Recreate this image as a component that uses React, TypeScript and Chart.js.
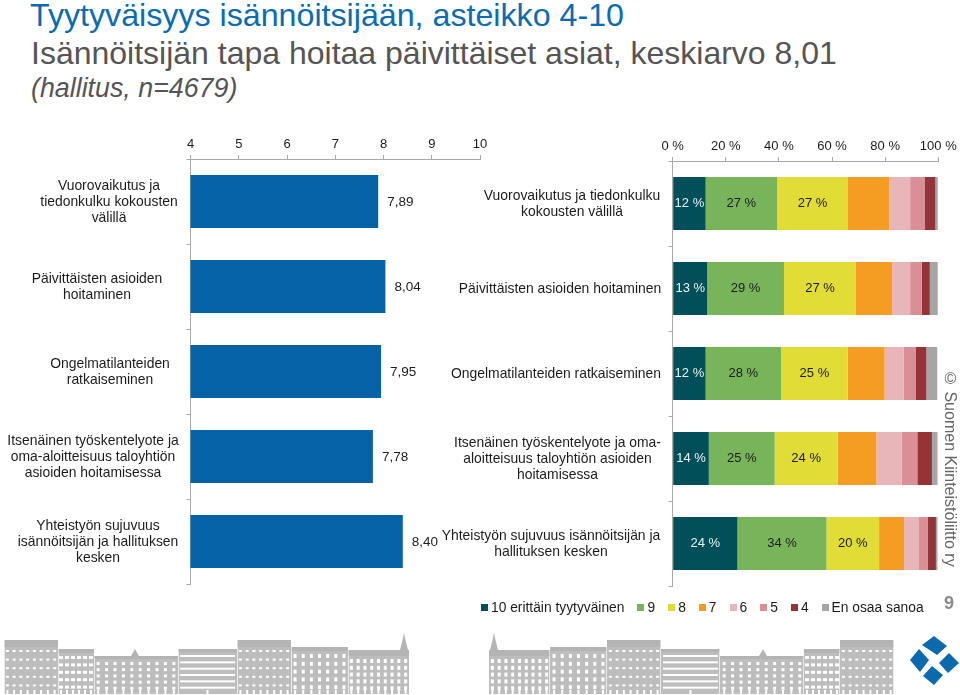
import React, { useEffect, useRef } from "react";
import { Chart, registerables } from "chart.js";

Chart.register(...registerables);

const FONT = '"Liberation Sans", Arial, sans-serif';

const avgLabels = [
  ["Vuorovaikutus ja", "tiedonkulku kokousten", "välillä"],
  ["Päivittäisten asioiden", "hoitaminen"],
  ["Ongelmatilanteiden", "ratkaiseminen"],
  ["Itsenäinen työskentelyote ja", "oma-aloitteisuus taloyhtiön", "asioiden hoitamisessa"],
  ["Yhteistyön sujuvuus", "isännöitsijän ja hallituksen", "kesken"],
];
const avgValues = [7.89, 8.04, 7.95, 7.78, 8.4];

const shareLabels = [
  ["Vuorovaikutus ja tiedonkulku", "kokousten välillä"],
  ["Päivittäisten asioiden hoitaminen"],
  ["Ongelmatilanteiden ratkaiseminen"],
  ["Itsenäinen työskentelyote ja oma-", "aloitteisuus taloyhtiön asioiden", "hoitamisessa"],
  ["Yhteistyön sujuvuus isännöitsijän ja", "hallituksen kesken"],
];
const legendNames = ["10 erittäin tyytyväinen", "9", "8", "7", "6", "5", "4", "En osaa sanoa"];
const legendColors = ["#004f59", "#78b55a", "#e2dc37", "#f59c22", "#e8b5b9", "#d98f96", "#943438", "#a6a6a6"];

const s10 = [12.4, 13, 12.4, 13.6, 24.4];
const s9 = [26.9, 28.9, 28.4, 24.8, 33.5];
const s8 = [26.7, 27.1, 25.1, 23.7, 19.8];
const s7 = [15.6, 13.6, 13.9, 14.6, 9.4];
const s6 = [7.8, 6.8, 7.2, 9.5, 5.4];
const s5 = [5.4, 4.4, 4.6, 5.9, 3.6];
const s4 = [4.1, 3, 3.9, 5.5, 3];
const sNa = [0.9, 3, 4.1, 2.1, 0.6];
const shareSeries = [s10, s9, s8, s7, s6, s5, s4, sNa];

const avgLabelCenters = [109, 97, 110, 93, 98];
const shareLabelCenters = [132, 120, 116, 117.5, 111];

const AXIS = "#a9a9a9";
const TEXT = "#1c1c1c";

function rowLabels(lines: string[][], centers: number[]) {
  return {
    id: "rowLabels",
    afterDatasetsDraw(chart: any) {
      const { ctx, scales } = chart;
      ctx.save();
      ctx.font = `13.9px ${FONT}`;
      ctx.fillStyle = TEXT;
      ctx.textAlign = "center";
      ctx.textBaseline = "middle";
      lines.forEach((ls, i) => {
        const yc = scales.y.getPixelForTick(i) + 0.5;
        ls.forEach((t, k) => ctx.fillText(t, centers[i], yc + (k - (ls.length - 1) / 2) * 16));
      });
      ctx.restore();
    },
  };
}

const avgValueLabels = {
  id: "avgValueLabels",
  afterDatasetsDraw(chart: any) {
    const { ctx, scales } = chart;
    ctx.save();
    ctx.font = `13.5px ${FONT}`;
    ctx.fillStyle = TEXT;
    ctx.textBaseline = "middle";
    avgValues.forEach((v, i) => {
      ctx.fillText(v.toFixed(2).replace(".", ","), scales.x.getPixelForValue(v) + 9, scales.y.getPixelForTick(i) + 0.5);
    });
    ctx.restore();
  },
};

const shareValueLabels = {
  id: "shareValueLabels",
  afterDatasetsDraw(chart: any) {
    const { ctx } = chart;
    ctx.save();
    ctx.font = `13px ${FONT}`;
    ctx.textAlign = "center";
    ctx.textBaseline = "middle";
    for (let d = 0; d < 3; d++) {
      ctx.fillStyle = d === 0 ? "#e8f4f4" : TEXT;
      chart.getDatasetMeta(d).data.forEach((bar: any, i: number) => {
        const cx = (bar.x + bar.base) / 2;
        ctx.fillText(`${Math.round(shareSeries[d][i])} %`, cx, bar.y);
      });
    }
    ctx.restore();
  },
};

function axisOptions(yWidth: number, xHeight: number, pad: number, min: number, max: number, step: number, fmt: (v: number) => string) {
  return {
    x: {
      position: "top",
      stacked: true,
      min,
      max,
      afterFit: (s: any) => { s.height = xHeight; },
      grid: { drawOnChartArea: false, tickLength: 4, color: AXIS },
      border: { color: AXIS },
      ticks: { stepSize: step, padding: pad, maxRotation: 0, color: TEXT, font: { family: FONT, size: 13 }, callback: (v: any) => fmt(Number(v)) },
    },
    y: {
      stacked: true,
      afterFit: (s: any) => { s.width = yWidth; },
      grid: { drawOnChartArea: false, tickLength: 4, color: AXIS },
      border: { color: AXIS },
      ticks: { display: false },
    },
  };
}

const ROOF = "#b4b4b4";
type Building = { x: number; w: number; top: number; roof: number; rows: number; cols: number; winW: number; winH: number };
const buildings: Building[] = [
  { x: 0, w: 61, top: 20, roof: 6, rows: 5, cols: 9, winW: 3, winH: 4 },
  { x: 61, w: 57, top: 17, roof: 4, rows: 5, cols: 7, winW: 3, winH: 4 },
  { x: 118, w: 54, top: 10, roof: 7, rows: 5, cols: 8, winW: 3, winH: 2 },
  { x: 172, w: 59, top: 19, roof: 3, rows: 6, cols: 1, winW: 55, winH: 2 },
  { x: 231, w: 84, top: 26, roof: 3, rows: 5, cols: 10, winW: 3, winH: 3 },
  { x: 315, w: 36, top: 19, roof: 4, rows: 5, cols: 6, winW: 4, winH: 3 },
  { x: 351, w: 54, top: 10, roof: 7, rows: 5, cols: 8, winW: 3, winH: 2 },
];

function Skyline({ left, mirror }: { left: number; mirror: boolean }) {
  const H = 64;
  return (
    <svg width={406} height={H + 8} style={{ position: "absolute", left, top: 630, transform: mirror ? "scaleX(-1)" : undefined }}>
      {buildings.map((b, i) => {
        const wins = [];
        const bodyH = H - b.top - b.roof - 4;
        for (let r = 0; r < b.rows; r++) {
          for (let c = 0; c < b.cols; c++) {
            wins.push(
              <rect key={`${r}-${c}`} x={b.x + (b.w * (c + 0.5)) / b.cols - b.winW / 2} y={b.top + b.roof + 2 + (bodyH * r) / b.rows + 1} width={b.winW} height={b.winH} fill="#fff" />
            );
          }
          if (r === b.rows - 1) {
            for (let c = 0; c < b.cols; c++) {
              wins.push(<rect key={`g${c}`} x={b.x + (b.w * (c + 0.5)) / b.cols - 1} y={H - 4} width={Math.min(b.winW, 2)} height={4} fill="#fff" />);
            }
          }
        }
        return (
          <g key={i}>
            <rect x={b.x} y={b.top} width={b.w - 0.7} height={H - b.top} fill="#bdbdbd" />
            <rect x={b.x} y={b.top} width={b.w - 0.7} height={b.roof} fill={ROOF} />
            {wins}
          </g>
        );
      })}
      <polygon points="1,20 4,8 5,2 6,8 9,20" fill="#b4b4b4" />
      <polygon points="270,26 274,19 278,26" fill="#b4b4b4" />
    </svg>
  );
}

function Logo() {
  return (
    <svg width={60} height={60} style={{ position: "absolute", left: 905, top: 633 }} viewBox="905 633 60 60">
      <polygon points="934,636 947,646 937,655 922,645" fill="#0b69ae" />
      <polygon points="949,653 959,663 948,673 939,663" fill="#0b69ae" />
      <polygon points="932,666 943,675 934,685 923,676" fill="#0b69ae" />
      <polygon points="919,649 929,660 920,672 910,660" fill="#0b69ae" />
    </svg>
  );
}

export default function App() {
  const leftRef = useRef<HTMLCanvasElement>(null);
  const rightRef = useRef<HTMLCanvasElement>(null);

  useEffect(() => {
    const a = new Chart(leftRef.current!, {
      type: "bar",
      data: {
        labels: avgLabels.map((l) => l.join(" ")),
        datasets: [{ label: "Keskiarvo", data: avgValues, backgroundColor: "#0562a7", categoryPercentage: 1, barPercentage: 53 / 85 }],
      },
      options: {
        indexAxis: "y",
        animation: false,
        responsive: false,
        layout: { padding: { top: 0, right: 20, bottom: 6, left: 0 } },
        plugins: { legend: { display: false }, tooltip: { enabled: false } },
        scales: axisOptions(190.5, 29, 3, 4, 10, 1, (v) => String(v)) as any,
      },
      plugins: [rowLabels(avgLabels, avgLabelCenters), avgValueLabels],
    });
    const b = new Chart(rightRef.current!, {
      type: "bar",
      data: {
        labels: shareLabels.map((l) => l.join(" ")),
        datasets: shareSeries.map((data, i) => ({
          label: legendNames[i],
          data,
          backgroundColor: legendColors[i],
          categoryPercentage: 1,
          barPercentage: 53 / 85,
        })),
      },
      options: {
        indexAxis: "y",
        animation: false,
        responsive: false,
        layout: { padding: { top: 0, right: 21.7, bottom: 14, left: 0 } },
        plugins: { legend: { display: false }, tooltip: { enabled: false } },
        scales: axisOptions(232.7, 31, 3, 0, 100, 20, (v) => `${v} %`) as any,
      },
      plugins: [rowLabels(shareLabels, shareLabelCenters), shareValueLabels],
    });
    return () => {
      a.destroy();
      b.destroy();
    };
  }, []);

  const abs = { position: "absolute", whiteSpace: "nowrap", fontFamily: FONT } as React.CSSProperties;
  return (
    <div style={{ position: "fixed", left: 0, top: 0, width: 960, height: 695, overflow: "hidden", background: "#fff" }}>
      <div style={{ ...abs, left: 30, top: -3, fontSize: 32.2, lineHeight: "36px", color: "#0b6cb2" }}>Tyytyväisyys isännöitsijään, asteikko 4-10</div>
      <div style={{ ...abs, left: 31, top: 35, fontSize: 32, lineHeight: "36px", color: "#555" }}>Isännöitsijän tapa hoitaa päivittäiset asiat, keskiarvo 8,01</div>
      <div style={{ ...abs, left: 31, top: 72, fontSize: 26.8, lineHeight: "32px", color: "#555", fontStyle: "italic" }}>(hallitus, n=4679)</div>

      <canvas ref={leftRef} width={500} height={460} style={{ position: "absolute", left: 0, top: 130, width: 500, height: 460 }} />
      <canvas ref={rightRef} width={520} height={470} style={{ position: "absolute", left: 440, top: 130, width: 520, height: 470 }} />

      <div style={{ ...abs, left: 481, top: 599, height: 16, display: "flex", alignItems: "center", fontSize: 13.8, color: TEXT }}>
        {legendNames.map((n, i) => (
          <span key={n} style={{ display: "inline-flex", alignItems: "center", marginRight: 13 }}>
            <span style={{ width: 7, height: 7, background: legendColors[i], marginRight: 3 }} />
            {n}
          </span>
        ))}
      </div>

      <div style={{ ...abs, left: 941, top: 370, writingMode: "vertical-rl", fontSize: 16, fontWeight: 400, color: "#666", lineHeight: "18px" }}>© Suomen Kiinteistöliitto ry</div>
      <div style={{ ...abs, left: 944, top: 591, fontSize: 18, fontWeight: 700, color: "#8a8a8a", lineHeight: "24px" }}>9</div>

      <Skyline left={489} mirror={false} />
      <Skyline left={3} mirror={true} />
      <Logo />
    </div>
  );
}
